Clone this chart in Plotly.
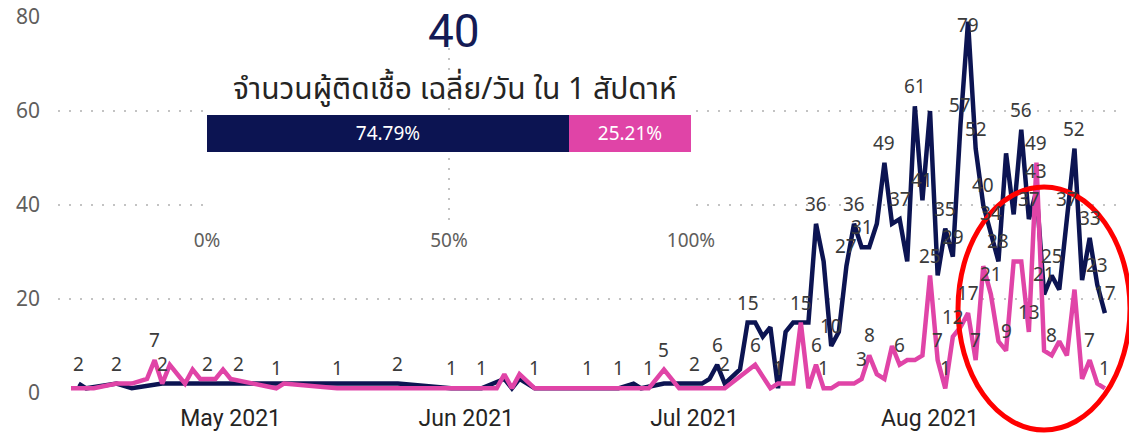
import pandas as pd
import plotly.graph_objects as go

NAVY = "#0C1452"
PINK = "#E044A7"
LABEL_GREY = "#3B3B3B"
AXIS_GREY = "#605E5C"
GRID_GREY = "#C3C3C3"
FONT = "Segoe UI, Noto Sans, Open Sans, sans-serif"
THAI_FONT = "Noto Sans Thai, Leelawadee UI, Noto Sans, sans-serif"

# navy series: sparse days first, then one value per day from 7 Jul
dark_dates = ["2021-04-11", "2021-04-12", "2021-04-16", "2021-04-18", "2021-04-22", "2021-04-28",
              "2021-05-02", "2021-05-23", "2021-05-30", "2021-06-03", "2021-06-06", "2021-06-07",
              "2021-06-08", "2021-06-10", "2021-06-17", "2021-06-21", "2021-06-23", "2021-06-24",
              "2021-06-27", "2021-07-01", "2021-07-02", "2021-07-03", "2021-07-04", "2021-07-05"]
dark_dates += [d.strftime("%Y-%m-%d") for d in pd.date_range("2021-07-07", "2021-08-24")]
dark_values = [2, 1, 2, 1, 2, 2, 2, 2, 1, 1, 3, 1, 3, 1, 1, 1, 2, 1, 2, 2, 2, 3, 6, 2,
               5, 15, 15, 12, 14, 1, 13, 15, 15, 15, 36, 28, 10, 13, 27, 36, 31, 31, 36, 49,
               36, 37, 28, 61, 41,
               60, 25, 35, 29, 57, 79, 52, 40, 34, 28, 51, 38, 56, 37, 43, 21, 25, 22, 37,
               52, 24, 33, 23, 17]

# pink series: sparse days first, then one value per day from 14 Jul
pink_dates = ["2021-04-10", "2021-04-13", "2021-04-16", "2021-04-18", "2021-04-20", "2021-04-21",
              "2021-04-22", "2021-04-23", "2021-04-25", "2021-04-26", "2021-04-27", "2021-04-29",
              "2021-04-30", "2021-05-01", "2021-05-04", "2021-05-07", "2021-05-08", "2021-05-15",
              "2021-06-05", "2021-06-06", "2021-06-07", "2021-06-08", "2021-06-10", "2021-06-25",
              "2021-06-27", "2021-06-29", "2021-07-05", "2021-07-09", "2021-07-11", "2021-07-12"]
pink_dates += [d.strftime("%Y-%m-%d") for d in pd.date_range("2021-07-14", "2021-08-24")]
pink_values = [1, 1, 2, 2, 3, 7, 2, 6, 2, 5, 3, 3, 5, 3, 2, 1, 2, 1,
               1, 4, 1, 4, 1, 1, 5, 1, 1, 6, 1, 2,
               2, 15, 1, 6, 1, 1, 2, 2, 2, 3, 8, 4, 3, 10, 6, 7, 7, 8,
               25, 7, 1, 12, 14, 17, 7, 27, 21, 11, 9, 28, 28, 13, 49, 9, 8, 11, 8, 22,
               3, 7, 2, 1]

# days that carry a visible data label
dark_labelled = ["2021-04-11", "2021-04-16", "2021-04-22", "2021-04-28", "2021-05-02", "2021-05-23",
                 "2021-05-30", "2021-06-03", "2021-06-17", "2021-06-21", "2021-07-01", "2021-07-04",
                 "2021-07-05", "2021-07-08", "2021-07-12", "2021-07-17", "2021-07-19", "2021-07-21",
                 "2021-07-22", "2021-07-23", "2021-07-26", "2021-07-28", "2021-07-30", "2021-07-31",
                 "2021-08-03", "2021-08-04", "2021-08-05", "2021-08-06", "2021-08-07", "2021-08-08",
                 "2021-08-09", "2021-08-10", "2021-08-13", "2021-08-14", "2021-08-15", "2021-08-16",
                 "2021-08-17", "2021-08-19", "2021-08-20", "2021-08-22", "2021-08-23", "2021-08-24"]
pink_labelled = ["2021-04-21", "2021-05-07", "2021-05-15", "2021-06-10", "2021-06-25", "2021-06-27",
                 "2021-07-09", "2021-07-15", "2021-07-17", "2021-07-18", "2021-07-23", "2021-07-24",
                 "2021-07-28", "2021-08-01", "2021-08-02", "2021-08-03", "2021-08-04", "2021-08-06",
                 "2021-08-07", "2021-08-09", "2021-08-11", "2021-08-14", "2021-08-15", "2021-08-17",
                 "2021-08-22", "2021-08-24"]

# weekly card
week_average = 40
card_title = "จำนวนผู้ติดเชื้อ เฉลี่ย/วัน ใน 1 สัปดาห์"
share_values = [74.79, 25.21]
share_colors = [NAVY, PINK]
share_ticks = [0, 50, 100]

fig = go.Figure()
fig.add_scatter(x=dark_dates, y=dark_values, mode="lines", line={"color": NAVY, "width": 4.5})
fig.add_scatter(x=pink_dates, y=pink_values, mode="lines", line={"color": PINK, "width": 4.5})

for dates, values, labelled in ((dark_dates, dark_values, dark_labelled),
                                (pink_dates, pink_values, pink_labelled)):
    for d, v in zip(dates, values):
        if d not in labelled:
            continue
        fig.add_annotation(x=d, y=v, text=str(v), showarrow=False, yanchor="middle",
                           yshift=20 if v <= 70 else -3,
                           font={"family": FONT, "size": 19, "color": LABEL_GREY})

for value, color in zip(share_values, share_colors):
    fig.add_bar(x=[value], y=[0], orientation="h", width=0.213, marker={"color": color, "line": {"width": 0}},
                text=[f"{value:.2f}%"], textposition="inside", insidetextanchor="middle", textangle=0,
                textfont={"family": FONT, "size": 19, "color": "white"}, xaxis="x2", yaxis="y2")

# white panel behind the card, hides the main grid there
fig.add_shape(type="rect", xref="x2 domain", yref="y2 domain", x0=-0.066, x1=1.07, y0=-0.287, y1=1.115,
              fillcolor="white", line={"width": 0}, layer="below")
fig.add_shape(type="circle", xref="paper", yref="paper", x0=0.8459, x1=1.0075, y0=-0.0984, y1=0.5479,
              line={"color": "#FF0000", "width": 5})

fig.add_annotation(x=0.3722, y=0.9628, xref="paper", yref="paper", text=str(week_average), showarrow=False,
                   xanchor="center", yanchor="middle",
                   font={"family": "Roboto, DejaVu Sans, sans-serif", "size": 46, "color": "#141B55"})
fig.add_annotation(x=0.3731, y=0.8059, xref="paper", yref="paper", text=card_title, showarrow=False,
                   xanchor="center", yanchor="middle",
                   font={"family": THAI_FONT, "size": 30, "color": "#252423"})

fig.update_layout(
    width=1129, height=435, margin={"l": 58, "r": 7, "t": 17, "b": 42},
    paper_bgcolor="white", plot_bgcolor="white", showlegend=False, barmode="stack",
    xaxis={"type": "date", "range": ["2021-04-08 07:00", "2021-08-26 06:00"], "dtick": "M1",
           "tick0": "2021-05-01", "tickformat": "%b %Y", "showgrid": False, "zeroline": False,
           "ticks": "", "ticklabelstandoff": 9, "automargin": False,
           "tickfont": {"family": "Roboto, DejaVu Sans, sans-serif", "size": 23, "color": "#252423"}},
    yaxis={"range": [0, 80], "dtick": 20, "showgrid": True, "gridcolor": GRID_GREY, "gridwidth": 2,
           "griddash": "2px,9px", "zeroline": False, "ticks": "", "ticklabelstandoff": 17,
           "automargin": False, "tickfont": {"family": FONT, "size": 21, "color": AXIS_GREY}},
    xaxis2={"domain": [0.1400, 0.5949], "anchor": "y2", "range": [0, 100], "tickvals": share_ticks,
            "ticktext": [f"{t}%" for t in share_ticks], "showgrid": True, "gridcolor": GRID_GREY,
            "gridwidth": 1.5, "griddash": "2px,8px", "zeroline": False, "showline": False, "ticks": "",
            "ticklabelstandoff": 5, "automargin": False,
            "tickfont": {"family": FONT, "size": 19, "color": AXIS_GREY}},
    yaxis2={"domain": [0.4548, 0.9176], "anchor": "x2", "range": [-0.5086, 0.4914], "visible": False},
)

# drop the browser's default body margin so the figure sits at the page origin
fig.write_html("out.html", config={"displayModeBar": False},
               post_script="document.body.style.margin='0';document.body.style.overflow='hidden';")
